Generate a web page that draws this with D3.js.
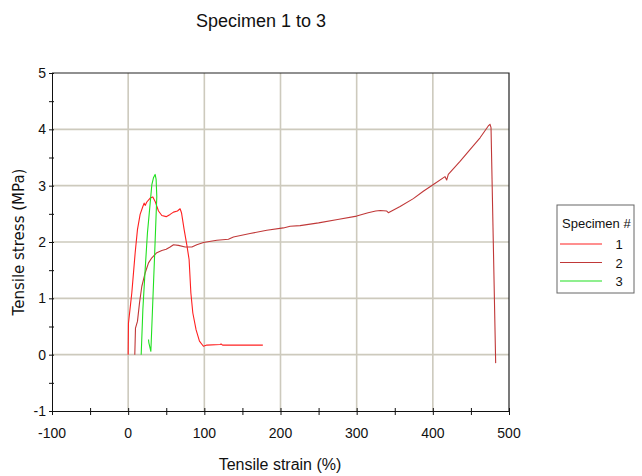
<!DOCTYPE html>
<html>
<head>
<meta charset="utf-8">
<script src="https://cdn.jsdelivr.net/npm/d3@7"></script>
<style>
  html, body { margin: 0; padding: 0; background: #fff; }
  svg { display: block; }
  text { font-family: Tahoma, "Liberation Sans", "DejaVu Sans", sans-serif; fill: #111; }
</style>
</head>
<body>
<svg id="chart" width="642" height="476"></svg>
<script>
// Tensile test curves, [strain %, stress MPa]
const specimen1 = [
  [0, 0], [0.4, 0.56], [4.8, 1.10], [9.2, 1.81], [12.2, 2.22], [15.7, 2.49],
  [19.3, 2.63], [21, 2.69], [22.3, 2.65], [24.5, 2.71], [28.9, 2.78], [32.4, 2.80],
  [35.4, 2.72], [39.8, 2.55], [44.2, 2.47], [49.9, 2.45], [55.1, 2.49], [59.5, 2.53],
  [64.7, 2.55], [68.2, 2.59], [70, 2.52], [73.5, 2.22], [77, 1.95], [80, 1.69],
  [82.3, 1.10], [84.9, 0.74], [89.2, 0.44], [93.6, 0.24], [98.8, 0.15], [103.3, 0.17],
  [120.7, 0.18], [122, 0.19], [124, 0.17], [176.8, 0.17]
];
const specimen2 = [
  [8.7, 0], [9.6, 0.47], [12.2, 0.59], [14.9, 0.92], [17.9, 1.21], [22.3, 1.45],
  [26.7, 1.63], [31.1, 1.72], [37.6, 1.81], [44.2, 1.85], [49.9, 1.87], [55.1, 1.91],
  [59.5, 1.95], [66, 1.94], [74.8, 1.91], [83.6, 1.91], [90.1, 1.95], [98.8, 1.99],
  [116.4, 2.03], [131.6, 2.05], [138.2, 2.09], [160, 2.15], [182, 2.21], [203.8, 2.25],
  [212.6, 2.28], [225.7, 2.29], [250, 2.34], [275, 2.40], [300, 2.46], [315, 2.52],
  [325, 2.55], [331, 2.56], [339.5, 2.55], [341.6, 2.52], [357, 2.63], [374.4, 2.77],
  [387.5, 2.90], [400.7, 3.02], [416, 3.16], [418.2, 3.10], [420.3, 3.20], [435.7, 3.43],
  [448.8, 3.64], [462, 3.85], [472.8, 4.06], [475, 4.09], [476.4, 4.03], [479.4, 1.98],
  [482.5, -0.15]
];
const specimen3 = [
  [17.1, 0], [19.3, 0.80], [22.3, 1.51], [25.3, 2.16], [28.9, 2.69], [31.1, 3.02],
  [33.2, 3.14], [35.4, 3.20], [36.7, 3.11], [37.6, 2.81], [34.5, 1.69], [29.8, 0.06],
  [27.2, 0.21], [26.7, 0.27]
];

const seriesNames = ["1", "2", "3"];
const seriesColors = ["#ff2020", "#c03838", "#20e020"];
const seriesData = [specimen1, specimen2, specimen3];

const xTicks = [-100, 0, 100, 200, 300, 400, 500];
const yTicks = [-1, 0, 1, 2, 3, 4, 5];
const xMinorTicks = d3.range(-100, 501, 50);
const yMinorTicks = d3.range(-1, 5.01, 0.5);

const chartTitle = "Specimen 1 to 3";
const xTitle = "Tensile strain (%)";
const yTitle = "Tensile stress (MPa)";
const legendTitle = "Specimen #";

const svg = d3.select("#chart");
const plot = { left: 52, right: 509, top: 73, bottom: 411 };

const x = d3.scaleLinear().domain([-100, 500]).range([plot.left, plot.right]);
const y = d3.scaleLinear().domain([-1, 5]).range([plot.bottom, plot.top]);

// grid
const grid = svg.append("g").attr("stroke", "#cdcabd").attr("stroke-width", 1.6);
grid.selectAll("line.gx").data(xTicks.filter(d => d > -100 && d < 500)).join("line")
  .attr("x1", d => x(d)).attr("x2", d => x(d)).attr("y1", plot.top).attr("y2", plot.bottom);
grid.selectAll("line.gy").data(yTicks.filter(d => d > -1 && d < 5)).join("line")
  .attr("y1", d => y(d)).attr("y2", d => y(d)).attr("x1", plot.left).attr("x2", plot.right);

// frame (top and right)
svg.append("path")
  .attr("d", `M${plot.left},${plot.top}H${plot.right}V${plot.bottom}`)
  .attr("fill", "none").attr("stroke", "#222").attr("stroke-width", 1.2);

// curves
const line = d3.line().x(d => x(d[0])).y(d => y(d[1]));
const clip = svg.append("clipPath").attr("id", "clip").append("rect")
  .attr("x", plot.left).attr("y", plot.top - 2)
  .attr("width", plot.right - plot.left).attr("height", plot.bottom - plot.top + 2);
svg.append("g").attr("clip-path", "url(#clip)")
  .selectAll("path").data(seriesData).join("path")
  .attr("d", line).attr("fill", "none")
  .attr("stroke", (d, i) => seriesColors[i]).attr("stroke-width", 1.1)
  .attr("stroke-linejoin", "round");

// axes
const xAxis = svg.append("g").attr("transform", `translate(0,${plot.bottom})`)
  .call(d3.axisBottom(x).tickValues(xMinorTicks).tickSize(4).tickFormat(""));
xAxis.select(".domain").attr("stroke", "#111");
xAxis.selectAll(".tick line").attr("y1", -3).attr("stroke", "#111");
svg.append("g").selectAll("text").data(xTicks).join("text")
  .attr("x", d => x(d)).attr("y", 438)
  .attr("text-anchor", "middle").attr("font-size", 14).text(d => d);

const yAxis = svg.append("g").attr("transform", `translate(${plot.left},0)`)
  .call(d3.axisLeft(y).tickValues(yMinorTicks).tickSize(3).tickFormat(""));
yAxis.select(".domain").attr("stroke", "#111");
yAxis.selectAll(".tick line").attr("x1", 2).attr("stroke", "#111");
svg.append("g").selectAll("text").data(yTicks).join("text")
  .attr("x", 46).attr("y", d => y(d) + 5)
  .attr("text-anchor", "end").attr("font-size", 14).text(d => d);

// titles
svg.append("text").attr("x", 261).attr("y", 27).attr("text-anchor", "middle")
  .attr("font-size", 18).text(chartTitle);
svg.append("text").attr("x", 280).attr("y", 470).attr("text-anchor", "middle")
  .attr("font-size", 16).text(xTitle);
svg.append("text").attr("transform", `translate(24,${(plot.top + plot.bottom) / 2}) rotate(-90)`)
  .attr("text-anchor", "middle").attr("font-size", 15)
  .style("font-family", "'DejaVu Sans', Verdana, sans-serif").text(yTitle);

// legend
const lg = svg.append("g").attr("transform", "translate(557,205)");
lg.append("rect").attr("width", 77).attr("height", 88)
  .attr("fill", "#fff").attr("stroke", "#666").attr("stroke-width", 1);
lg.append("text").attr("x", 5).attr("y", 23).attr("font-size", 13).text(legendTitle);
seriesNames.forEach((name, i) => {
  const yy = 39 + i * 18.5;
  lg.append("line").attr("x1", 3).attr("x2", 45).attr("y1", yy).attr("y2", yy)
    .attr("stroke", seriesColors[i]).attr("stroke-width", 1.2);
  lg.append("text").attr("x", 62).attr("y", yy + 5).attr("text-anchor", "middle")
    .attr("font-size", 13).text(name);
});
</script>
</body>
</html>
